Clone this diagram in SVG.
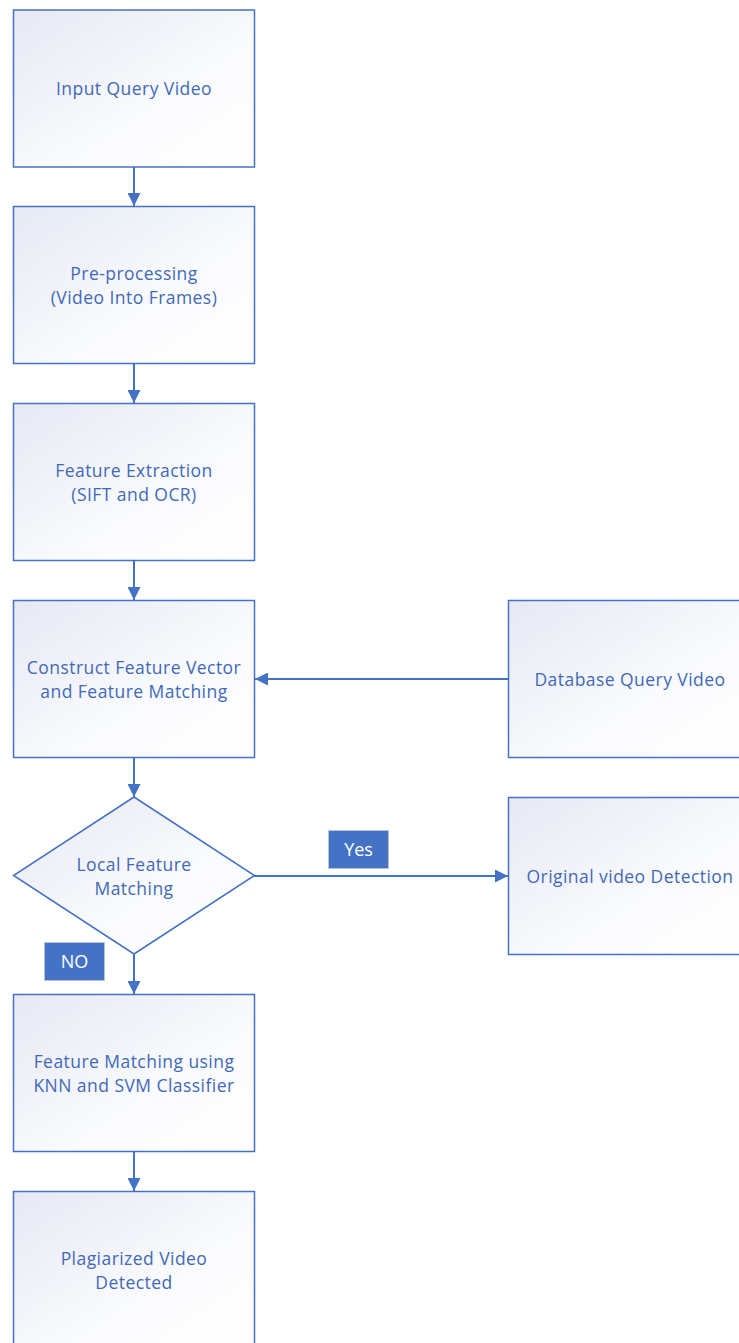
<svg xmlns="http://www.w3.org/2000/svg" width="739" height="1343" viewBox="0 0 739 1343">
<defs>
<linearGradient id="g" x1="0" y1="0" x2="1" y2="1">
<stop offset="0" stop-color="#e6e8f4"/>
<stop offset="0.6" stop-color="#fafbfd"/>
<stop offset="1" stop-color="#ffffff"/>
</linearGradient>
<marker id="arr" viewBox="0 0 10 10" refX="10" refY="5" markerWidth="6.5" markerHeight="6.5" markerUnits="strokeWidth" orient="auto">
<path d="M0,0 L10,5 L0,10 z" fill="#4472c4"/>
</marker>
<style>
.n{fill:url(#g);stroke:#4472c4;stroke-width:1.5}
.t{font-family:"Open Sans",Lato,sans-serif;font-size:17.5px;letter-spacing:0.45px;fill:#4169b8;text-anchor:middle}
.c{stroke:#4472c4;stroke-width:2;fill:none;marker-end:url(#arr)}
.lb{fill:#4472c4;stroke:#b8c4dc;stroke-width:1}
.lt{font-family:"Open Sans",Lato,sans-serif;font-size:18px;fill:#ffffff;text-anchor:middle}
</style>
</defs>
<g id="connectors">
<line class="c" x1="134" y1="167" x2="134" y2="206"/>
<line class="c" x1="134" y1="363" x2="134" y2="403"/>
<line class="c" x1="134" y1="560" x2="134" y2="600"/>
<line class="c" x1="134" y1="757" x2="134" y2="797"/>
<line class="c" x1="134" y1="954" x2="134" y2="994"/>
<line class="c" x1="134" y1="1151" x2="134" y2="1191"/>
<line class="c" x1="508.5" y1="679" x2="255" y2="679"/>
<line class="c" x1="254" y1="876" x2="508" y2="876"/>
</g>
<g id="n1"><rect class="n" x="13.5" y="10" width="241" height="157"/><text class="t" x="134" y="94.5">Input Query Video</text></g>
<g id="n2"><rect class="n" x="13.5" y="206.5" width="241" height="157"/><text class="t" x="134" y="279.5">Pre-processing</text><text class="t" x="134" y="303.5">(Video Into Frames)</text></g>
<g id="n3"><rect class="n" x="13.5" y="403.5" width="241" height="157"/><text class="t" x="134" y="476.5">Feature Extraction</text><text class="t" x="134" y="500.5">(SIFT and OCR)</text></g>
<g id="n4"><rect class="n" x="13.5" y="600.5" width="241" height="157"/><text class="t" x="134" y="673.5">Construct Feature Vector</text><text class="t" x="134" y="697.5">and Feature Matching</text></g>
<g id="n5"><polygon class="n" points="134,797 254.5,875.5 134,954 13.5,875.5"/><text class="t" x="134" y="870.5">Local Feature</text><text class="t" x="134" y="894.5">Matching</text></g>
<g id="n6"><rect class="n" x="13.5" y="994.5" width="241" height="157"/><text class="t" x="134" y="1067.5">Feature Matching using</text><text class="t" x="134" y="1091.5">KNN and SVM Classifier</text></g>
<g id="n7"><rect class="n" x="13.5" y="1191.5" width="241" height="157"/><text class="t" x="134" y="1264.5">Plagiarized Video</text><text class="t" x="134" y="1288.5">Detected</text></g>
<g id="n8"><rect class="n" x="508.5" y="600.5" width="241" height="157"/><text class="t" x="630" y="685.5">Database Query Video</text></g>
<g id="n9"><rect class="n" x="508.5" y="797.5" width="241" height="157"/><text class="t" x="630" y="882.5">Original video Detection</text></g>
<g id="lyes"><rect class="lb" x="328.5" y="830.5" width="60" height="38"/><text class="lt" x="358.5" y="856">Yes</text></g>
<g id="lno"><rect class="lb" x="44.5" y="942.5" width="60" height="38"/><text class="lt" x="74.5" y="968">NO</text></g>
</svg>
